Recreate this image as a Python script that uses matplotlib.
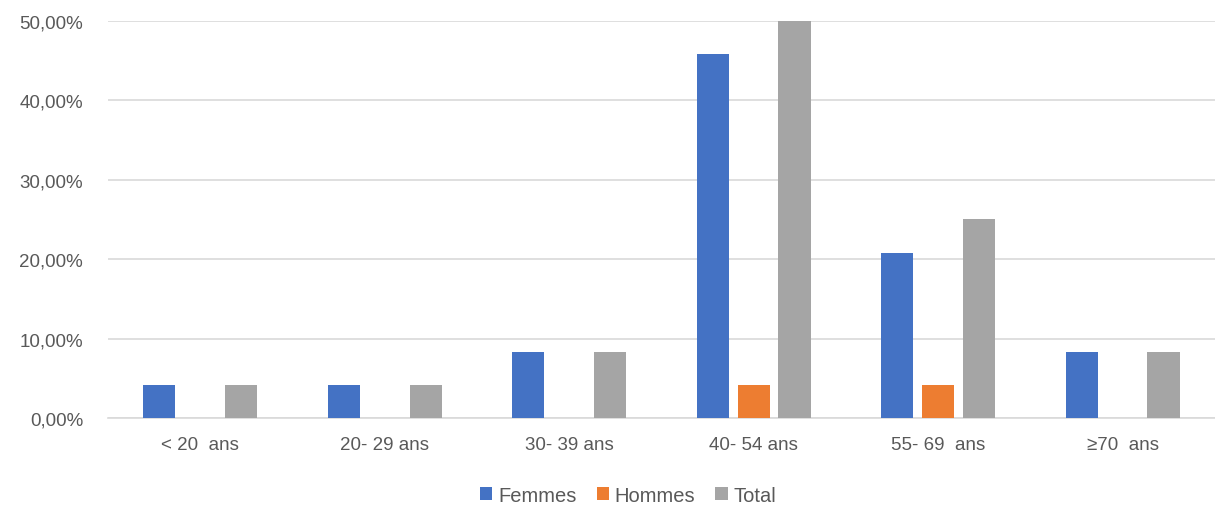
import numpy as np
import matplotlib
matplotlib.use('Agg')
import matplotlib.pyplot as plt

plt.rcParams['font.family'] = ['Liberation Sans', 'DejaVu Sans']

categories = ['< 20  ans', '20- 29 ans', '30- 39 ans', '40- 54 ans', '55- 69  ans', '\u226570  ans']
femmes = [4.17, 4.17, 8.33, 45.83, 20.83, 8.33]
hommes = [0, 0, 0, 4.17, 4.17, 0]
total = [4.17, 4.17, 8.33, 50.0, 25.0, 8.33]
yticks = [0, 10, 20, 30, 40, 50]
ytick_labels = ['0,00%', '10,00%', '20,00%', '30,00%', '40,00%', '50,00%']

series = [('Femmes', femmes, '#4472C4'),
          ('Hommes', hommes, '#ED7D31'),
          ('Total', total, '#A5A5A5')]

fig = plt.figure(figsize=(12.15, 5.06), dpi=100)
ax = fig.add_axes([0.0889, 0.172, 0.911, 0.7846])

x = np.arange(len(categories))
step = 0.222
width = 0.175
for i, (name, vals, col) in enumerate(series):
    ax.bar(x + (i - 1) * step, vals, width, color=col, label=name, zorder=3)

ax.set_xlim(-0.5, len(categories) - 0.5)
ax.set_ylim(0, 50)
ax.set_yticks(yticks)
ax.set_yticklabels(ytick_labels)
ax.set_xticks(x)
ax.set_xticklabels(categories)
ax.grid(axis='y', color='#d9d9d9', linewidth=1.2, zorder=0)
for s in ['top', 'right', 'left']:
    ax.spines[s].set_visible(False)
ax.spines['bottom'].set_color('#d9d9d9')
ax.spines['bottom'].set_linewidth(1.2)
ax.tick_params(axis='both', length=0, labelsize=13.5, labelcolor='#595959')
ax.tick_params(axis='y', pad=18)
ax.tick_params(axis='x', pad=13)

fig.legend(loc='center', bbox_to_anchor=(0.517, 0.019), ncol=3, frameon=False,
           fontsize=14.5, labelcolor='#595959', handlelength=0.6, handleheight=0.6,
           handletextpad=0.3, columnspacing=1.0)

fig.savefig('out.png', dpi=100)
